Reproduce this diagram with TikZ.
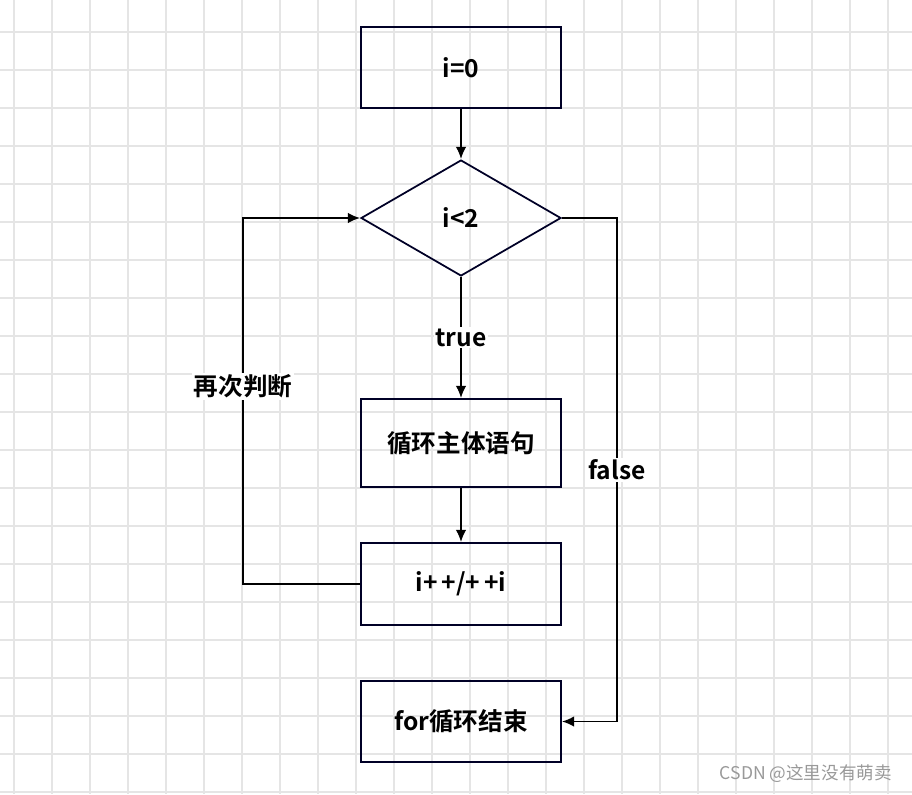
\documentclass[tikz,border=0pt]{standalone}
\usepackage{fontspec}
\setmainfont{Noto Sans CJK SC}[BoldFont={* Bold}]
\usetikzlibrary{arrows.meta,shapes.geometric}

\begin{document}
\begin{tikzpicture}[x=0.02cm,y=-0.02cm,
  box/.style={draw=black!85!blue,line width=1pt,minimum width=4cm,inner sep=0pt,font=\bfseries\fontsize{14}{16}\selectfont},
  arr/.style={line width=1pt,-{Latex[length=7pt,width=6pt]}},
  lbl/.style={fill=white,inner sep=1pt,font=\bfseries\fontsize{14}{16}\selectfont}]
  \useasboundingbox (0,0) rectangle (912,794);
  % grid
  \foreach \x in {14,52,...,900} \draw[black!10,line width=0.8pt] (\x,0) -- (\x,794);
  \foreach \y in {32,70,...,794} \draw[black!10,line width=0.8pt] (0,\y) -- (912,\y);
  \node[box,minimum height=1.62cm] (init) at (461,67.5) {i=0};
  \node[box,diamond,aspect=1.72,minimum width=4cm,minimum height=2.32cm] (cond) at (461,218) {i<2};
  \node[box,minimum height=1.76cm] (body) at (461,443) {循环主体语句};
  \node[box,minimum height=1.64cm] (incr) at (461,584) {i+\,+/+\,+i};
  \node[box,minimum height=1.62cm] (done) at (461,721.5) {for循环结束};
  \coordinate (lt) at (243,584);
  \coordinate (lb) at (243,218);
  \coordinate (rt) at (617,218);
  \coordinate (rb) at (617,721.5);
  \draw[arr] (init) -- (cond);
  \draw[arr] (cond) -- node[lbl,pos=0.5] {true} (body);
  \draw[arr] (body) -- (incr);
  \draw[arr] (incr.west) -- (lt) -- node[lbl,pos=0.54] {再次判断} (lb) -- (cond.west);
  \draw[arr] (cond.east) -- (rt) -- node[lbl,pos=0.5] {false} (rb) -- (done.east);
  \node[text=black!40,font=\fontsize{10}{12}\selectfont,anchor=east] (mark) at (898,774) {CSDN @这里没有萌卖};
\end{tikzpicture}
\end{document}
